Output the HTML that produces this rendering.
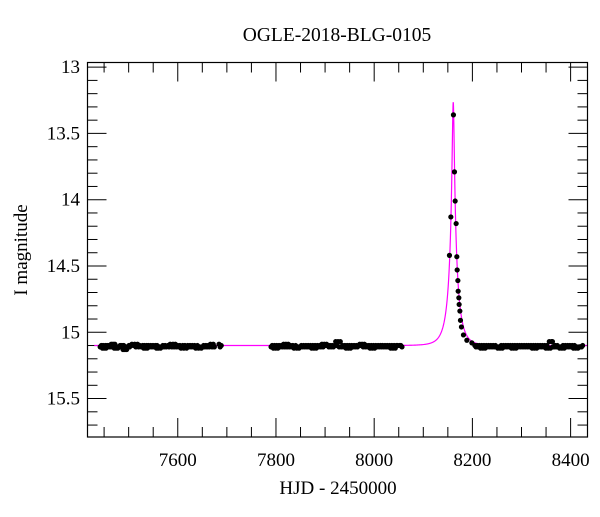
<!DOCTYPE html>
<html><head><meta charset="utf-8"><style>
body{margin:0;background:#fff}
svg text{font-family:"Liberation Serif",serif;fill:#000}
</style></head><body>
<svg id="c" width="600" height="512" xmlns="http://www.w3.org/2000/svg">
<text x="337" y="41" text-anchor="middle" font-size="19.5">OGLE-2018-BLG-0105</text>
<text x="338" y="494" text-anchor="middle" font-size="19">HJD - 2450000</text>
<text transform="translate(27,250) rotate(-90)" text-anchor="middle" font-size="19">I magnitude</text>
<g id="ticks"></g><g id="model"></g><g id="pts"></g>
<rect x="87.5" y="62.5" width="500" height="374.5" fill="none" stroke="#000" stroke-width="1.2"/>
</svg>
<script>
const xTicks=[7600,7800,8000,8200,8400];
const yTicks=[13,13.5,14,14.5,15,15.5];
const modelParams=[8161,0.102,19,15.1,0.5]; // t0,u0,tE,baseMag,fs
const peakT=[8153.3,8156.1,8161.4,8163.5,8164.9,8166.9,8168.3,8169,8170.4,8171,8172.4,8173,8174.5,8175.7,8177.7,8181.8,8188.7,8198.9];
const peakM=[14.42,14.13,13.36,13.79,14.01,14.18,14.43,14.53,14.61,14.69,14.74,14.79,14.84,14.91,14.96,15.02,15.06,15.08];
const baseT=[7442,7448,7454,7460,7466,7472,7478,7484,7490,7496,7502,7510,7518,7526,7532,7538,7545,7552,7558,7565,7572,7580,7588,7595,7602,7610,7618,7625,7632,7640,7648,7655,7662,7670,7684,
7790,7797,7804,7811,7818,7825,7832,7840,7847,7854,7861,7868,7875,7882,7889,7896,7903,7910,7917,7924,7931,7938,7945,7952,7959,7966,7973,7980,7987,7994,8001,8008,8015,8022,8029,8036,8043,8052,
8205,8212,8219,8226,8233,8240,8247,8254,8261,8268,8275,8282,8289,8296,8303,8310,8317,8324,8331,8338,8345,8352,8359,8363,8366,8373,8380,8387,8394,8401,8408,8415,8420];
const baseM=[15.11,15.1,15.12,15.1,15.11,15.09,15.12,15.11,15.1,15.13,15.11,15.1,15.09,15.11,15.1,15.12,15.1,15.11,15.1,15.12,15.11,15.1,15.11,15.09,15.11,15.1,15.12,15.1,15.11,15.1,15.12,15.11,15.1,15.11,15.09,
15.11,15.1,15.12,15.1,15.11,15.09,15.11,15.1,15.12,15.11,15.1,15.11,15.1,15.12,15.1,15.11,15.09,15.1,15.11,15.1,15.07,15.11,15.1,15.12,15.1,15.11,15.1,15.09,15.11,15.1,15.12,15.1,15.11,15.1,15.11,15.1,15.12,15.1,
15.1,15.11,15.1,15.12,15.1,15.11,15.1,15.11,15.12,15.1,15.11,15.1,15.12,15.1,15.11,15.1,15.11,15.1,15.12,15.1,15.11,15.1,15.12,15.07,15.11,15.1,15.11,15.12,15.1,15.11,15.1,15.12,15.11];
const NS="http://www.w3.org/2000/svg";
const X0=87.5,X1=587.5,Y0=62.5,Y1=437;
const tMin=7416.2,tMax=8434.4,mMin=12.965,mMax=15.79;
const sx=t=>X0+(t-tMin)/(tMax-tMin)*(X1-X0);
const sy=m=>Y0+(m-mMin)/(mMax-mMin)*(Y1-Y0);
function mk(tag,at,parent){const e=document.createElementNS(NS,tag);for(const k in at)e.setAttribute(k,at[k]);parent.appendChild(e);return e;}
const tg=document.getElementById('ticks');
for(let t=7450;t<=8400;t+=50){const maj=t%200===0;const L=maj?19:10;const x=sx(t);
 let e=mk('line',{x1:x,x2:x,y1:Y1,y2:Y1-L,stroke:'#000','stroke-width':1},tg);
 
 
 e=mk('line',{x1:x,x2:x,y1:Y0,y2:Y0+L,stroke:'#000','stroke-width':1},tg);
 
 }
xTicks.forEach(v=>{const e=mk('text',{x:sx(v),y:466,'text-anchor':'middle','font-size':19},tg);e.textContent=v;
 
 });
for(let i=0;i<=27;i++){const m=13+i*0.1;const maj=i%5===0;const L=maj?19:10;const y=sy(m);if(y>Y1)break;
 let e=mk('line',{x1:X0,x2:X0+L,y1:y,y2:y,stroke:'#000','stroke-width':1},tg);
 
 
 e=mk('line',{x1:X1,x2:X1-L,y1:y,y2:y,stroke:'#000','stroke-width':1},tg);
 
 }
yTicks.forEach(v=>{const e=mk('text',{x:80,y:sy(v)+6,'text-anchor':'end','font-size':19},tg);e.textContent=v;
 
 });
const [t0,u0,tE,mb,fs]=modelParams;
let d='';
for(let t=7430;t<=8434;t+=(Math.abs(t-t0)<60?0.25:2)){const tau=(t-t0)/tE;const u=Math.sqrt(u0*u0+tau*tau);
 const A=(u*u+2)/(u*Math.sqrt(u*u+4));const m=mb-2.5*Math.log10(1+fs*(A-1));
 d+=(d?'L':'M')+sx(t).toFixed(2)+','+sy(m).toFixed(2);}
const ml=mk('path',{d:d,fill:'none',stroke:'#ff00ff','stroke-width':1.2},document.getElementById('model'));


const pg=document.getElementById('pts');
function pt(t,m){const c=mk('circle',{cx:sx(t),cy:sy(m),r:2.6,fill:'#000'},pg);
 
 }
baseT.forEach((t,i)=>{pt(t,baseM[i]);pt(t+2.3,baseM[(i+1)%baseM.length]);pt(t+4.6,baseM[(i+2)%baseM.length]);});
peakT.forEach((t,i)=>pt(t,peakM[i]));
</script>
</body></html>
